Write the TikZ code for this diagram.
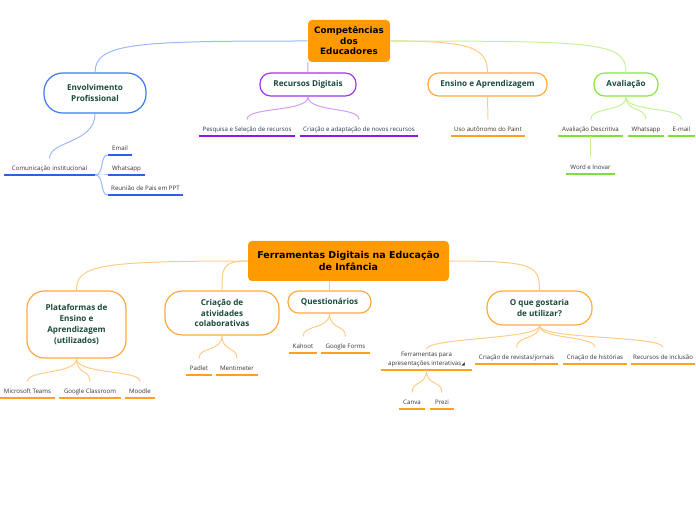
\documentclass[tikz,border=0pt]{standalone}
\usepackage{fontspec}
\setmainfont{Open Sans}
\newfontfamily\rootfont{DejaVu Sans}
\definecolor{rootO}{HTML}{FF9B00}
\definecolor{txtG}{HTML}{1A4A3A}
\definecolor{leafT}{HTML}{333333}
\definecolor{blueO}{HTML}{3C7BF0}
\definecolor{blueC}{HTML}{9AB8F5}
\definecolor{blueU}{HTML}{2A62E0}
\definecolor{purO}{HTML}{A335EE}
\definecolor{purC}{HTML}{D49CF5}
\definecolor{purU}{HTML}{9018E0}
\definecolor{orO}{HTML}{FFAA3C}
\definecolor{orC}{HTML}{FFCC88}
\definecolor{orU}{HTML}{FFA020}
\definecolor{grO}{HTML}{88E83A}
\definecolor{grC}{HTML}{C6F29A}
\definecolor{grU}{HTML}{7EE030}
\begin{document}
\begin{tikzpicture}[x=0.75pt,y=-0.75pt,
  rootbox/.style={fill=rootO, rounded corners=3pt, align=center, inner sep=0pt, text=black},
  pill/.style={draw, line width=0.9pt, fill=white, text=txtG, align=center, inner sep=0pt,
    font=\bfseries\fontsize{6.1}{8.2}\selectfont},
  leaf/.style={font=\fontsize{4.6}{6.7}\selectfont, text=leafT, inner xsep=0pt, inner ysep=3.5pt,
    text height=5pt, text depth=0pt, anchor=south},
  con/.style={line width=0.75pt},
  ul/.style={line width=1.1pt}
]
\useasboundingbox (0,0) rectangle (696,520);

% ---------- top map ----------
\node[rootbox, minimum width=61.5pt, minimum height=31.5pt,
  font=\rootfont\bfseries\fontsize{6.6}{7.9}\selectfont] (r1) at (349,41) {Competências\\dos\\Educadores};

\node[pill, draw=blueO, rounded corners=14pt, minimum width=76.5pt, minimum height=30pt] (env) at (95,93) {Envolvimento\\Profissional};
\node[pill, draw=purO, rounded corners=8pt, minimum width=72pt, minimum height=17.25pt] (rec) at (308,84.5) {Recursos Digitais};
\node[pill, draw=orO, rounded corners=8pt, minimum width=89.25pt, minimum height=17.25pt] (ens) at (487.5,84.5) {Ensino e Aprendizagem};
\node[pill, draw=grO, rounded corners=8pt, minimum width=48pt, minimum height=17.25pt] (ava) at (626,84.5) {Avaliação};

\draw[con, blueC] (r1.west) .. controls +(-170,0) and +(0,-30) .. (env.north);
\draw[con, purC] (r1.south west) -- (rec.north);
\draw[con, orC] (r1.east) .. controls +(80,0) and +(0,-25) .. (ens.north);
\draw[con, grC] (r1.east) .. controls +(210,0) and +(0,-30) .. (ava.north);

% leaves top
\node[leaf, minimum width=72pt] (pesq) at (247,136) {Pesquisa e Seleção de recursos};
\node[leaf, minimum width=88.5pt] (criad) at (359,136) {Criação e adaptação de novos recursos};
\node[leaf, minimum width=55.5pt] (uso) at (488,136) {Uso autônomo do Paint};
\node[leaf, minimum width=48.75pt] (avd) at (590.5,136) {Avaliação Descritiva};
\node[leaf, minimum width=27pt] (wa) at (646,136) {Whatsapp};
\node[leaf, minimum width=20.25pt] (em) at (681.5,136) {E-mail};
\node[leaf, minimum width=36pt] (word) at (590.5,174) {Word e Inovar};
\node[leaf, minimum width=68.25pt] (com) at (49.5,175) {Comunicação institucional};
\node[leaf, minimum width=18pt] (email) at (120,155) {Email};
\node[leaf, minimum width=27.75pt] (wa2) at (126.5,175) {Whatsapp};
\node[leaf, minimum width=56.25pt] (reun) at (145.5,195) {Reunião de Pais em PPT};

\foreach \n in {pesq,criad} \draw[ul, purU] (\n.south west) -- (\n.south east);
\foreach \n in {uso} \draw[ul, orU] (\n.south west) -- (\n.south east);
\foreach \n in {avd,wa,em,word} \draw[ul, grU] (\n.south west) -- (\n.south east);
\foreach \n in {com,email,wa2,reun} \draw[ul, blueU] (\n.south west) -- (\n.south east);

\foreach \n in {pesq,criad} \draw[con, purC] (rec.south) .. controls +(0,16) and +(0,-13) .. (\n.north);
\draw[con, orC] (ens.south) -- (uso.north);
\foreach \n in {avd,wa,em} \draw[con, grC] (ava.south) .. controls +(0,16) and +(0,-13) .. (\n.north);
\draw[con, grC] (avd.south) -- (word.north);
\draw[con, blueC] (env.south) .. controls +(0,30) and +(0,-18) .. (com.north);
\foreach \n in {email,wa2,reun} \draw[con, blueC] (com.south east) .. controls +(9,0) and +(-8,0) .. (\n.south west);

% ---------- bottom map ----------
\node[rootbox, minimum width=150.75pt, minimum height=30pt,
  font=\rootfont\bfseries\fontsize{7.1}{9}\selectfont] (r2) at (348.5,261) {Ferramentas Digitais na Educação\\de Infância};

\node[pill, draw=orO, rounded corners=13pt, minimum width=74.25pt, minimum height=50.25pt] (pla) at (76.5,324.5) {Plataformas de\\Ensino e\\Aprendizagem\\(utilizados)};
\node[pill, draw=orO, rounded corners=13pt, minimum width=85.5pt, minimum height=33pt] (cri) at (222,313) {Criação de\\atividades\\colaborativas};
\node[pill, draw=orO, rounded corners=8pt, minimum width=62.25pt, minimum height=16.5pt] (que) at (329.5,302) {Questionários};
\node[pill, draw=orO, rounded corners=12pt, minimum width=78.75pt, minimum height=25.5pt] (oq) at (539.5,308) {O que gostaria\\de utilizar?};

\draw[con, orC] (r2.west) .. controls +(-150,0) and +(0,-25) .. (pla.north);
\draw[con, orC] (r2.west) .. controls +(-26,0) and +(0,-22) .. (cri.north);
\draw[con, orC] (r2.south -| que.north) -- (que.north);
\draw[con, orC] (r2.east) .. controls +(85,0) and +(0,-25) .. (oq.north);

\node[leaf, minimum width=41.25pt] (mst) at (27.5,398) {Microsoft Teams};
\node[leaf, minimum width=46.5pt] (gc) at (90,398) {Google Classroom};
\node[leaf, minimum width=22.5pt] (moo) at (140,398) {Moodle};
\node[leaf, minimum width=19.5pt] (pad) at (199,375) {Padlet};
\node[leaf, minimum width=31.5pt] (men) at (237,375) {Mentimeter};
\node[leaf, minimum width=21pt] (kah) at (303,353) {Kahoot};
\node[leaf, minimum width=36.75pt] (gf) at (345.5,353) {Google Forms};
\node[leaf, text height=, text depth=, inner ysep=2pt, align=center, minimum width=68.25pt] (fer) at (426.5,370)
  {Ferramentas para\\apresentações interativas{\rootfont\fontsize{3.5}{4}\selectfont ◢}};
\node[leaf, minimum width=62.25pt] (rev) at (516.5,364) {Criação de revistas/jornais};
\node[leaf, minimum width=48pt] (his) at (595,364) {Criação de histórias};
\node[leaf, minimum width=48pt] (inc) at (663,364) {Recursos de inclusão};
\node[leaf, minimum width=19.5pt] (canva) at (412,409) {Canva};
\node[leaf, minimum width=18pt] (prezi) at (442,409) {Prezi};

\foreach \n in {mst,gc,moo,pad,men,kah,gf,fer,rev,his,inc,canva,prezi} \draw[ul, orU] (\n.south west) -- (\n.south east);

\foreach \n in {mst,gc,moo} \draw[con, orC] (pla.south) .. controls +(0,16) and +(0,-12) .. (\n.north);
\foreach \n in {pad,men} \draw[con, orC] (cri.south) .. controls +(0,16) and +(0,-12) .. (\n.north);
\foreach \n in {kah,gf} \draw[con, orC] (que.south) .. controls +(0,16) and +(0,-12) .. (\n.north);
\foreach \n in {fer,rev,his,inc} \draw[con, orC] (oq.south) .. controls +(0,14) and +(0,-12) .. (\n.north);
\foreach \n in {canva,prezi} \draw[con, orC] (fer.south) .. controls +(0,16) and +(0,-12) .. (\n.north);
\end{tikzpicture}
\end{document}
